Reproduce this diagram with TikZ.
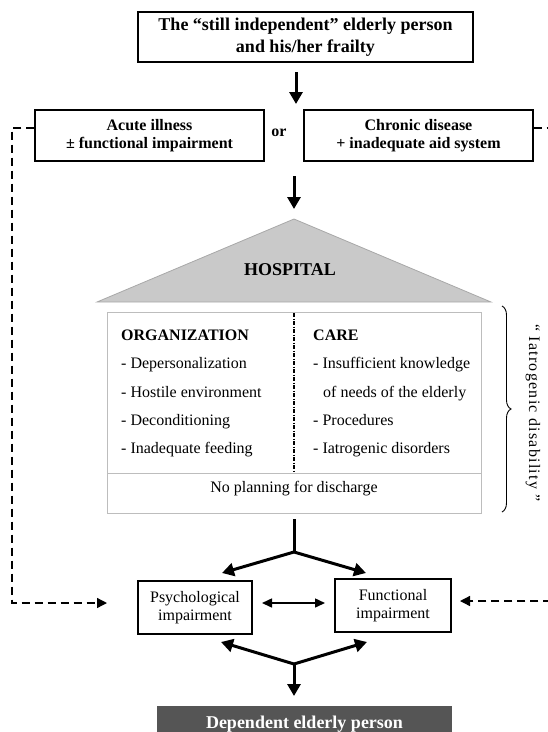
\documentclass[tikz,border=0pt]{standalone}
\usepackage{fontspec}
\setmainfont{Liberation Serif}
\usetikzlibrary{arrows.meta,decorations.pathreplacing}
\definecolor{roofgray}{HTML}{C9C9C9}
\definecolor{roofedge}{HTML}{A8A8A8}
\definecolor{boxgray}{HTML}{BDBDBD}
\definecolor{depgray}{HTML}{555555}
\begin{document}
\begin{tikzpicture}[x=1pt,y=-1pt,
  boxnode/.style={draw=black,line width=1.1pt,align=center,inner sep=0pt,fill=white},
  bigarrow/.style={line width=3pt,-{Triangle[width=13pt,length=12pt]}},
  thickline/.style={line width=3pt},
  dasharrow/.style={line width=1.3pt,dash pattern=on 8pt off 5pt,-{Triangle[width=10pt,length=10pt]}},
  thinarrow/.style={line width=1.5pt,{Triangle[width=9pt,length=10pt]}-{Triangle[width=9pt,length=10pt]}},
  listtext/.style={anchor=base west,inner sep=0pt,font=\fontsize{16}{19}\selectfont},
  listhead/.style={anchor=base west,inner sep=0pt,font=\fontsize{16}{19}\selectfont\bfseries}]
\useasboundingbox (0,0) rectangle (547,732);

% top
\node[boxnode,minimum width=335pt,minimum height=50pt,font=\fontsize{18}{22}\selectfont\bfseries] (top) at (305.5,37)
  {The “still independent” elderly person\\and his/her frailty};
\coordinate (a1s) at (296,72);
\coordinate (a1e) at (296,104);
\draw[bigarrow] (a1s) -- (a1e);

\node[boxnode,minimum width=229pt,minimum height=51pt,font=\fontsize{16}{17.5}\selectfont\bfseries] (acute) at (149.5,135.5)
  {Acute illness\\± functional impairment};
\node[inner sep=0pt,font=\fontsize{16}{19}\selectfont\bfseries] (or) at (279,133) {or};
\node[boxnode,minimum width=229pt,minimum height=51pt,font=\fontsize{16}{17.5}\selectfont\bfseries] (chronic) at (418.5,135.5)
  {Chronic disease\\+ inadequate aid system};

\coordinate (a2s) at (294,176);
\coordinate (a2e) at (294,209);
\draw[bigarrow] (a2s) -- (a2e);

% hospital roof
\draw[fill=roofgray,draw=roofedge,line width=0.8pt] (294,219) -- (491,302) -- (97,302) -- cycle;
\node[inner sep=0pt,font=\fontsize{18}{20}\selectfont\bfseries] (hosp) at (290,270) {HOSPITAL};

% hospital body
\draw[draw=boxgray,line width=1pt] (107,312) rectangle (481,513);
\draw[draw=boxgray,line width=1pt] (107,473) -- (481,473);
\draw[draw=black,line width=1.3pt,dash pattern=on 4pt off 1.5pt on 1pt off 1.5pt] (294,313) -- (294,472);

\node[listhead] (org) at (121,340.5) {ORGANIZATION};
\node[listtext] (o1) at (121,368.5) {- Depersonalization};
\node[listtext] (o2) at (121,397) {- Hostile environment};
\node[listtext] (o3) at (121,425) {- Deconditioning};
\node[listtext] (o4) at (121,453) {- Inadequate feeding};

\node[listhead] (care) at (313,340.5) {CARE};
\node[listtext] (c1) at (313,368.5) {- Insufficient knowledge};
\node[listtext] (c2) at (323,397) {of needs of the elderly};
\node[listtext] (c3) at (313,425) {- Procedures};
\node[listtext] (c4) at (313,453) {- Iatrogenic disorders};

\node[inner sep=0pt,anchor=base,font=\fontsize{16}{19}\selectfont] (plan) at (294,492) {No planning for discharge};

% brace
\draw[line width=0.9pt,decorate,decoration={brace,amplitude=9pt}] (502,306) -- (502,512);
\node[rotate=-90,inner sep=0pt,font=\fontsize{16}{19}\selectfont\addfontfeatures{LetterSpace=8}] (iat) at (533,413)
  {“ Iatrogenic disability ”};

% split arrows
\coordinate (b1) at (294,519);
\coordinate (bp) at (294,552);
\coordinate (tl) at (222,573);
\coordinate (tr) at (366,573);
\draw[thickline] (b1) -- (bp);
\draw[bigarrow] (bp) -- (tl);
\draw[bigarrow] (bp) -- (tr);

\node[boxnode,minimum width=114pt,minimum height=53pt,font=\fontsize{16}{18}\selectfont] (psych) at (195,607.5)
  {Psychological\\impairment};
\node[boxnode,minimum width=116pt,minimum height=53pt,font=\fontsize{16}{18}\selectfont] (func) at (393,605.5)
  {Functional\\impairment};
\coordinate (dl) at (262,603);
\coordinate (dr) at (325,603);
\draw[thinarrow] (dl) -- (dr);

\coordinate (bq) at (294,664);
\coordinate (ul) at (221,642);
\coordinate (ur) at (367,642);
\coordinate (dn) at (294,696);
\draw[bigarrow] (bq) -- (ul);
\draw[bigarrow] (bq) -- (ur);
\draw[bigarrow] (bq) -- (dn);

\node[fill=depgray,text=white,inner sep=0pt,minimum width=295pt,minimum height=36pt,font=\fontsize{18}{20}\selectfont\bfseries] (dep) at (304.5,724)
  {Dependent elderly person};

% dashed feedback lines
\coordinate (lc1) at (12,128);
\coordinate (lc2) at (12,603);
\coordinate (lt) at (107,603);
\draw[dasharrow] ([yshift=7.5pt]acute.west) -- (lc1) -- (lc2) -- (lt);
\coordinate (rc1) at (553,128);
\coordinate (rc2) at (553,601);
\coordinate (rt) at (460,601);
\draw[dasharrow] ([yshift=7.5pt]chronic.east) -- (rc1) -- (rc2) -- (rt);
\end{tikzpicture}
\end{document}
